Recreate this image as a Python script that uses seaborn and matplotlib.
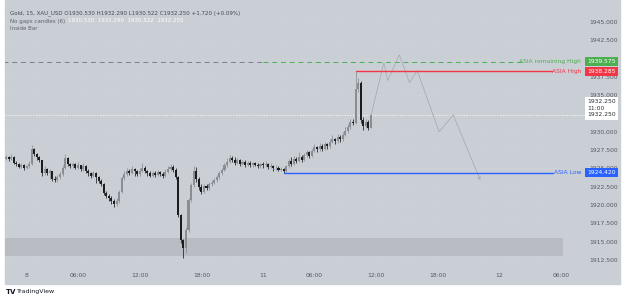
import numpy as np
import matplotlib
matplotlib.use("Agg")
import matplotlib.pyplot as plt
import seaborn as sns
from matplotlib.patches import Rectangle
from matplotlib.transforms import blended_transform_factory

# Gold 15 min candles (bar index, prices)
closes = [1926.5, 1926.3, 1926.6, 1925.8, 1925.6, 1925.2, 1925.4, 1925.0, 1925.3, 1925.6,
          1927.6, 1926.9, 1926.5, 1926.1, 1924.3, 1924.9, 1924.4, 1924.6, 1923.6, 1923.4,
          1923.8, 1924.2, 1925.0, 1926.4, 1925.6, 1925.3, 1925.6, 1925.1, 1925.4, 1924.9,
          1925.3, 1924.7, 1924.3, 1924.0, 1924.4, 1923.8, 1923.3, 1922.9, 1921.6, 1921.2,
          1921.0, 1920.5, 1920.2, 1920.5, 1921.8, 1923.7, 1924.2, 1924.6, 1924.4, 1924.9,
          1924.6, 1924.2, 1924.7, 1925.1, 1924.6, 1924.3, 1924.0, 1924.4, 1924.1, 1924.5,
          1924.2, 1924.0, 1924.5, 1924.9, 1925.2, 1924.8, 1923.8, 1918.6, 1915.2, 1914.1,
          1916.6, 1920.7, 1922.7, 1924.6, 1923.5, 1922.4, 1921.8, 1922.6, 1922.3, 1922.8,
          1923.0, 1923.4, 1923.8, 1924.3, 1924.8, 1925.4, 1925.9, 1926.4, 1926.2, 1925.8,
          1926.1, 1925.6, 1925.9, 1925.5, 1925.8, 1925.4, 1925.7, 1925.5, 1925.3, 1925.6,
          1925.4, 1925.6, 1925.2, 1925.3, 1925.0, 1925.1, 1924.8, 1924.9, 1924.6, 1925.3,
          1926.0, 1925.6, 1926.3, 1926.0, 1926.6, 1926.2, 1926.8, 1927.2, 1926.7, 1927.4,
          1927.9, 1927.6, 1928.1, 1927.7, 1928.3, 1928.0, 1928.6, 1929.0, 1928.7, 1929.3,
          1929.0, 1929.6, 1930.1, 1930.6, 1931.4, 1931.2, 1935.9, 1936.6, 1931.6, 1930.8,
          1931.4, 1930.53, 1932.25]
highs = [1926.8, 1926.7, 1926.9, 1926.7, 1926.0, 1925.8, 1925.7, 1925.6, 1925.5, 1926.0,
         1928.2, 1927.8, 1927.1, 1926.7, 1926.2, 1925.3, 1925.1, 1924.9, 1924.7, 1923.9,
         1924.1, 1924.5, 1925.4, 1926.9, 1926.5, 1925.8, 1925.9, 1925.8, 1925.9, 1925.5,
         1925.8, 1925.4, 1924.9, 1924.5, 1924.7, 1924.5, 1924.0, 1923.5, 1923.0, 1921.9,
         1921.5, 1921.2, 1920.8, 1920.9, 1922.0, 1924.0, 1924.6, 1925.0, 1924.9, 1925.3,
         1925.1, 1924.8, 1925.0, 1925.8, 1925.3, 1924.8, 1924.6, 1924.7, 1924.6, 1924.8,
         1924.7, 1924.5, 1924.9, 1925.3, 1925.6, 1925.4, 1925.0, 1924.0, 1918.8, 1915.4,
         1917.0, 1921.0, 1923.0, 1925.3, 1925.2, 1923.8, 1922.9, 1922.9, 1922.9, 1923.1,
         1923.4, 1923.7, 1924.1, 1924.6, 1925.1, 1925.8, 1926.4, 1926.8, 1926.7, 1926.5,
         1926.4, 1926.3, 1926.2, 1926.1, 1926.0, 1926.0, 1925.9, 1925.9, 1925.7, 1925.8,
         1925.9, 1926.0, 1925.8, 1925.7, 1925.5, 1925.4, 1925.3, 1925.2, 1925.0, 1925.5,
         1926.3, 1926.6, 1926.7, 1926.5, 1927.2, 1926.8, 1927.1, 1927.5, 1927.4, 1927.7,
         1928.3, 1928.1, 1928.5, 1928.3, 1928.6, 1928.5, 1929.0, 1929.6, 1929.2, 1929.7,
         1929.5, 1930.0, 1930.6, 1931.0, 1931.8, 1931.7, 1938.285, 1937.3, 1936.9, 1932.0,
         1931.8, 1931.6, 1932.29]
lows = [1926.1, 1926.0, 1926.1, 1925.6, 1925.3, 1925.0, 1925.0, 1924.8, 1924.9, 1925.1,
        1925.5, 1926.7, 1926.2, 1925.9, 1924.0, 1924.1, 1924.1, 1923.5, 1923.3, 1923.1,
        1923.2, 1923.6, 1924.0, 1924.9, 1925.3, 1925.0, 1925.1, 1924.9, 1924.9, 1924.6,
        1924.7, 1924.4, 1923.9, 1923.7, 1923.8, 1923.0, 1923.0, 1922.6, 1921.3, 1920.9,
        1920.6, 1920.2, 1919.7, 1919.9, 1920.3, 1921.6, 1923.4, 1924.0, 1924.1, 1924.2,
        1924.0, 1923.9, 1924.0, 1924.5, 1924.4, 1923.9, 1923.8, 1923.8, 1923.8, 1923.9,
        1923.9, 1923.7, 1923.8, 1924.3, 1924.7, 1924.5, 1923.6, 1918.3, 1914.8, 1912.8,
        1913.5, 1916.3, 1920.4, 1922.5, 1923.2, 1922.1, 1921.5, 1921.6, 1922.0, 1922.1,
        1922.6, 1922.8, 1923.2, 1923.6, 1924.1, 1924.6, 1925.2, 1925.7, 1925.9, 1925.5,
        1925.6, 1925.3, 1925.4, 1925.2, 1925.3, 1925.2, 1925.2, 1925.3, 1925.1, 1925.1,
        1925.1, 1925.2, 1924.9, 1925.0, 1924.7, 1924.8, 1924.6, 1924.6, 1924.42, 1924.5,
        1925.1, 1925.3, 1925.4, 1925.7, 1925.9, 1925.9, 1926.0, 1926.6, 1926.4, 1926.5,
        1927.2, 1927.3, 1927.4, 1927.4, 1927.5, 1927.6, 1927.8, 1928.4, 1928.3, 1928.5,
        1928.6, 1928.8, 1929.4, 1929.9, 1930.4, 1930.9, 1931.0, 1935.5, 1931.2, 1930.3,
        1930.5, 1930.2, 1930.522]
first_open = 1926.3

# key levels
asia_remaining_high = 1939.575
asia_high = 1938.285
asia_low = 1924.420
last_price = 1932.250
asia_start_bar = 100
asia_high_bar = 136
asia_low_bar = 108
zone_low, zone_high = 1913.0, 1915.5

# projected path (bar index, price)
proj_bars = [142, 147, 148.5, 153, 157, 160, 168.5, 174, 184.5]
proj_prices = [1932.25, 1939.4, 1937.0, 1940.5, 1936.7, 1938.35, 1930.0, 1932.3, 1923.4]

# axis ticks
x_tick_pos = [8, 28, 52, 76, 100, 120, 144, 168, 192, 216]
x_tick_labels = ["8", "06:00", "12:00", "18:00", "11", "06:00", "12:00", "18:00", "12", "06:00"]
y_ticks = [1912.5, 1915.0, 1917.5, 1920.0, 1922.5, 1925.0, 1927.5, 1930.0,
           1932.5, 1935.0, 1937.5, 1940.0, 1942.5, 1945.0]

BG = "#caced5"
TXT = "#55585f"
UP = "#8a8d94"
DOWN = "#1c1d21"
FS = 4.3
HFS = 4.0

sns.set_theme(style="white")
plt.rcParams['font.family'] = ['DejaVu Sans']

fig = plt.figure(figsize=(6.25, 3), dpi=100, facecolor="white")
fig.add_artist(Rectangle((5 / 625, 16 / 300), 615 / 625, 284 / 300,
                         transform=fig.transFigure, color=BG, zorder=0))
ax = fig.add_axes([5 / 625, 35 / 300, 558 / 625, 265 / 300])
ax.patch.set_alpha(0)

closes = np.array(closes)
opens = np.concatenate([[first_open], closes[:-1]])
highs = np.array(highs)
lows = np.array(lows)
bars = np.arange(len(closes))
up = closes >= opens
cols = np.where(up, UP, DOWN)

# light grid
for yv in y_ticks:
    ax.axhline(yv, color="#d2d5db", lw=0.5, ls=(0, (1, 1)), zorder=0)

ax.axhspan(zone_low, zone_high, color="#b9bcc3", lw=0, zorder=1)

ax.vlines(bars, lows, highs, colors=cols, lw=0.55, zorder=3)
body = np.maximum(np.abs(closes - opens), 0.1)
ax.bar(bars, body, bottom=np.minimum(opens, closes), width=0.8, color=cols, lw=0, zorder=4)

# level lines
ax.plot([-1, asia_start_bar], [asia_remaining_high] * 2, color="#7d8088", lw=0.7,
        ls=(0, (5, 4)), zorder=2)
ax.plot([asia_start_bar, 200.8], [asia_remaining_high] * 2, color="#4caf50", lw=0.7,
        ls=(0, (5, 4)), zorder=2)
ax.plot([asia_high_bar, 212.5], [asia_high] * 2, color="#f23645", lw=1.0, zorder=5)
ax.plot([asia_low_bar, 212.8], [asia_low] * 2, color="#2962ff", lw=1.0, zorder=5)
ax.axhline(last_price, xmin=0, xmax=1.04, color="white", lw=0.5, ls=(0, (2, 2)),
           clip_on=False, zorder=2)

# projection
sns.lineplot(x=proj_bars[:-1], y=proj_prices[:-1], ax=ax, color="#a3a6ad", lw=0.5,
             sort=False, estimator=None, zorder=2)
ax.annotate("", xy=(proj_bars[-1], proj_prices[-1]), xytext=(proj_bars[-2], proj_prices[-2]),
            arrowprops=dict(arrowstyle="->", color="#a3a6ad", lw=0.5,
                            shrinkA=0, shrinkB=0, mutation_scale=5))

ax.set_xlim(-0.4, 216.7)
ax.set_ylim(1911.8, 1948.0)
ax.set_xticks(x_tick_pos)
ax.set_xticklabels(x_tick_labels)
ax.yaxis.tick_right()
ax.set_yticks(y_ticks)
ax.set_yticklabels([f"{v:.3f}" for v in y_ticks])
ax.tick_params(axis="y", length=0, pad=19, labelsize=FS, labelcolor=TXT)
ax.tick_params(axis="x", length=0, pad=6, labelsize=FS, labelcolor=TXT)
sns.despine(ax=ax, left=True, bottom=True, right=True, top=True)
ax.grid(False)

# labels and price tags on the right
tr = blended_transform_factory(ax.transAxes, ax.transData)
lab_x = (581 - 5) / 558
tag_x = (587 - 5) / 558
ax.text(lab_x, asia_remaining_high, "ASIA remaining High", color="#4caf50", fontsize=FS,
        ha="right", va="center", transform=tr, clip_on=False)
ax.text(lab_x, asia_high, "ASIA High", color="#f23645", fontsize=FS,
        ha="right", va="center", transform=tr, clip_on=False)
ax.text(lab_x, asia_low, "ASIA Low", color="#2962ff", fontsize=FS,
        ha="right", va="center", transform=tr, clip_on=False)

tags = [(asia_remaining_high, f"{asia_remaining_high:.3f}", "#4caf50", "white"),
        (asia_high, f"{asia_high:.3f}", "#f23645", "white"),
        (asia_low, f"{asia_low:.3f}", "#2962ff", "white")]
for yv, s, bg, fg in tags:
    ax.text(tag_x, yv, s, color=fg, fontsize=FS, ha="left", va="center", transform=tr,
            clip_on=False, zorder=10,
            bbox=dict(boxstyle="square,pad=0.35", fc=bg, ec="none"))
ax.text(tag_x, last_price - 0.3, f"{last_price:.3f}\n11:00\n{last_price:.3f}", color="#2a2d33",
        fontsize=FS, ha="left", va="bottom", transform=tr, clip_on=False, zorder=10,
        linespacing=1.45, bbox=dict(boxstyle="square,pad=0.35", fc="white", ec="none"))

# header
fig.text(10 / 625, 1 - 13 / 300,
         "Gold, 15, XAU_USD O1930.530 H1932.290 L1930.522 C1932.250 +1.720 (+0.09%)",
         fontsize=HFS, color="#45484f", va="center")
fig.text(10 / 625, 1 - 21 / 300, "No gaps candles (6)", fontsize=HFS, color="#5d6067",
         va="center")
fig.text(68 / 625, 1 - 21 / 300, "1930.530  1932.290  1930.522  1932.250",
         fontsize=HFS, color="white", va="center")
fig.text(10 / 625, 1 - 29 / 300, "Inside Bar", fontsize=HFS, color="#5d6067", va="center")

# footer logo
fig.text(6 / 625, 1 - 292 / 300, "TV", fontsize=5, color="#131722", fontweight="bold",
         va="center")
fig.text(17 / 625, 1 - 292 / 300, "TradingView", fontsize=4.5, color="#131722", va="center")

fig.savefig("out.png", dpi=100, facecolor="white")
